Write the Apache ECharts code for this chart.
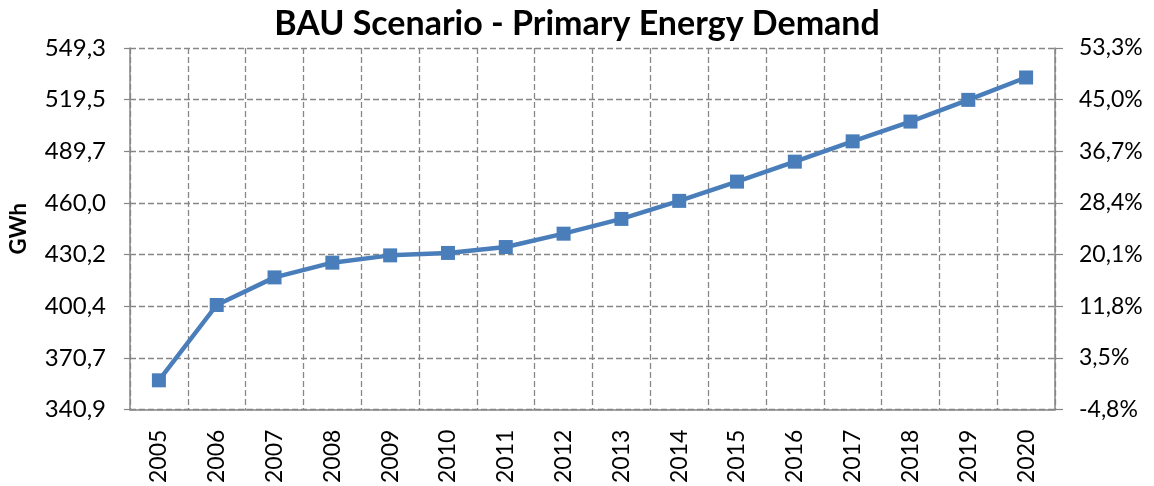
<!DOCTYPE html>
<html>
<head>
<meta charset="utf-8">
<script src="https://cdn.jsdelivr.net/npm/echarts@6/dist/echarts.min.js"></script>
<style>
html,body{margin:0;padding:0;background:#fff;}
#chart{width:1154px;height:486px;}
</style>
</head>
<body>
<div id="chart"></div>
<script>
const years = ['2005','2006','2007','2008','2009','2010','2011','2012','2013','2014','2015','2016','2017','2018','2019','2020'];
const demandGWh = [357.8, 401.2, 417.1, 425.6, 429.8, 431.2, 434.6, 442.3, 450.8, 461.2, 472.3, 483.8, 495.5, 506.9, 519.4, 532.3];
const leftTickLabels = ['340,9','370,7','400,4','430,2','460,0','489,7','519,5','549,3'];
const rightTickLabels = ['-4,8%','3,5%','11,8%','20,1%','28,4%','36,7%','45,0%','53,3%'];
const leftMin = 340.9, leftMax = 549.29, leftStep = 29.77;
const rightMin = -4.8, rightMax = 53.3, rightStep = 8.3;

const FONT = 'Lato';
const chart = echarts.init(document.getElementById('chart'), null, {renderer:'canvas'});
chart.setOption({
  animation: false,
  backgroundColor: '#ffffff',
  title: {
    text: 'BAU Scenario - Primary Energy Demand',
    left: 'center',
    top: 2,
    textStyle: {fontFamily: FONT, fontSize: 34, fontWeight: 'bold', color: '#000'}
  },
  grid: {left: 129, right: 99, top: 48, bottom: 74, containLabel: false},
  xAxis: {
    type: 'category',
    data: years,
    boundaryGap: true,
    axisLine: {show: true, onZero: false, lineStyle: {color: '#868686', width: 1.5}},
    axisTick: {show: false},
    splitLine: {show: true, lineStyle: {color: '#878787', type: [6, 3], width: 1.3}},
    axisLabel: {rotate: 90, margin: 20, fontFamily: FONT, fontSize: 23, color: '#000'}
  },
  yAxis: [
    {
      type: 'value',
      min: leftMin, max: leftMax, interval: leftStep,
      name: 'GWh',
      nameLocation: 'middle',
      nameRotate: 90,
      nameGap: 100,
      nameTextStyle: {fontFamily: FONT, fontSize: 22, fontWeight: 'bold', color: '#000'},
      axisLine: {show: true, lineStyle: {color: '#868686', width: 1.5}},
      axisTick: {show: true, length: 6, lineStyle: {color: '#868686', width: 1.2}},
      splitLine: {show: true, lineStyle: {color: '#878787', type: [6, 3], width: 1.3}},
      axisLabel: {
        margin: 24, fontFamily: FONT, fontSize: 24, color: '#000',
        formatter: function (v, i) { return leftTickLabels[i] !== undefined ? leftTickLabels[i] : ''; }
      }
    },
    {
      type: 'value',
      position: 'right',
      min: rightMin, max: rightMax, interval: rightStep,
      axisLine: {show: true, onZero: false, lineStyle: {color: '#868686', width: 1.5}},
      axisTick: {show: true, length: 8, lineStyle: {color: '#868686', width: 1.2}},
      splitLine: {show: false},
      axisLabel: {
        margin: 24, fontFamily: FONT, fontSize: 23, color: '#000',
        formatter: function (v, i) { return rightTickLabels[i] !== undefined ? rightTickLabels[i] : ''; }
      }
    }
  ],
  series: [{
    type: 'line',
    yAxisIndex: 0,
    data: demandGWh,
    symbol: 'rect',
    symbolSize: 14,
    lineStyle: {color: '#4a7ebb', width: 4.5},
    itemStyle: {color: '#4a7ebb', borderWidth: 0},
    z: 5
  }]
});
</script>
</body>
</html>
